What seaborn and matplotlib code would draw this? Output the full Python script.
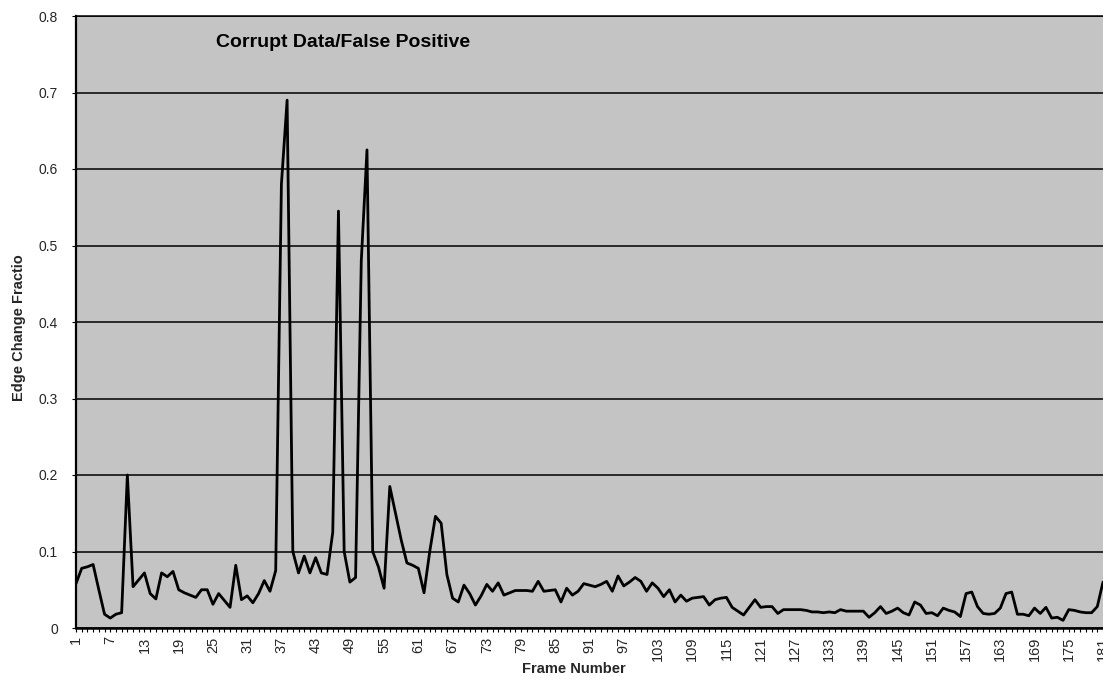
import numpy as np
import pandas as pd
import matplotlib
matplotlib.use("Agg")
import matplotlib.pyplot as plt
from matplotlib.ticker import MultipleLocator, FixedLocator
import seaborn as sns

# Edge change fraction per frame (frames 1..181)
edge_change = [
    0.058, 0.078, 0.080, 0.083, 0.050, 0.018, 0.013, 0.018, 0.020, 0.200,   # 1-10
    0.054, 0.063, 0.072, 0.045, 0.038, 0.072, 0.067, 0.074, 0.050, 0.046,   # 11-20
    0.043, 0.040, 0.050, 0.050, 0.031, 0.045, 0.036, 0.027, 0.082, 0.037,   # 21-30
    0.042, 0.033, 0.045, 0.062, 0.048, 0.075, 0.580, 0.690, 0.100, 0.072,   # 31-40
    0.094, 0.072, 0.092, 0.072, 0.070, 0.125, 0.545, 0.100, 0.060, 0.066,   # 41-50
    0.480, 0.625, 0.100, 0.080, 0.052, 0.185, 0.150, 0.115, 0.085, 0.082,   # 51-60
    0.078, 0.046, 0.100, 0.146, 0.137, 0.070, 0.039, 0.034, 0.056, 0.045,   # 61-70
    0.030, 0.042, 0.057, 0.048, 0.059, 0.043, 0.046, 0.049, 0.049, 0.049,   # 71-80
    0.048, 0.061, 0.048, 0.049, 0.050, 0.034, 0.052, 0.043, 0.048, 0.058,   # 81-90
    0.056, 0.054, 0.057, 0.061, 0.048, 0.068, 0.055, 0.060, 0.066, 0.061,   # 91-100
    0.048, 0.059, 0.052, 0.041, 0.050, 0.034, 0.043, 0.035, 0.039, 0.040,   # 101-110
    0.041, 0.030, 0.037, 0.039, 0.040, 0.027, 0.022, 0.017, 0.027, 0.037,   # 111-120
    0.027, 0.028, 0.028, 0.019, 0.024, 0.024, 0.024, 0.024, 0.023, 0.021,   # 121-130
    0.021, 0.020, 0.021, 0.020, 0.024, 0.022, 0.022, 0.022, 0.022, 0.014,   # 131-140
    0.020, 0.028, 0.019, 0.022, 0.026, 0.020, 0.017, 0.034, 0.030, 0.019,   # 141-150
    0.020, 0.016, 0.026, 0.023, 0.021, 0.015, 0.045, 0.047, 0.028, 0.019,   # 151-160
    0.018, 0.019, 0.026, 0.045, 0.047, 0.018, 0.018, 0.016, 0.026, 0.019,   # 161-170
    0.027, 0.013, 0.014, 0.010, 0.024, 0.023, 0.021, 0.020, 0.020, 0.028,   # 171-180
    0.060,                                                                  # 181
]
frames = list(range(1, len(edge_change) + 1))
frame_labels = list(range(1, 182, 6))
y_ticks = [0, 0.1, 0.2, 0.3, 0.4, 0.5, 0.6, 0.7, 0.8]
y_tick_labels = ["0", "0.1", "0.2", "0.3", "0.4", "0.5", "0.6", "0.7", "0.8"]

df = pd.DataFrame({"Frame Number": frames, "Edge Change Fractio": edge_change})

sns.set_theme(style="white")
plt.rcParams["font.family"] = ["Liberation Sans", "DejaVu Sans"]

fig = plt.figure(figsize=(11.03, 6.87), dpi=100)
ax = fig.add_axes([76 / 1103, 59 / 687, 1 - 76 / 1103, 612 / 687])
ax.set_facecolor("#c4c4c4")

sns.lineplot(data=df, x="Frame Number", y="Edge Change Fractio",
             color="black", linewidth=2.0, ax=ax, zorder=3)

ax.set_xlim(1, 181)
ax.set_ylim(0, 0.8)

# horizontal gridlines
ax.set_yticks(y_ticks)
ax.set_yticklabels(y_tick_labels, fontsize=10)
ax.yaxis.grid(True, color="black", linewidth=1.1)
ax.xaxis.grid(False)
ax.set_axisbelow(True)

ax.xaxis.set_major_locator(FixedLocator(frame_labels))
ax.set_xticklabels([str(v) for v in frame_labels], rotation=90, fontsize=10.5)
ax.xaxis.set_minor_locator(MultipleLocator(1))
ax.tick_params(axis="x", which="both", direction="out", length=3,
               width=0.8, color="black", bottom=True, pad=3)
ax.tick_params(axis="y", which="major", direction="out", length=3,
               width=0.8, color="black", left=True, pad=10)

for side in ("left", "bottom", "top"):
    ax.spines[side].set_visible(True)
    ax.spines[side].set_color("black")
ax.spines["left"].set_linewidth(1.6)
ax.spines["bottom"].set_linewidth(1.8)
ax.spines["top"].set_linewidth(1.1)
ax.spines["right"].set_visible(False)

ax.set_xlabel("Frame Number", fontsize=10.5, fontweight="bold")
ax.set_ylabel("Edge Change Fractio", fontsize=10.5, fontweight="bold")
ax.xaxis.set_label_coords(0.485, -0.056)
ax.yaxis.set_label_coords(-0.049, 0.49)

ax.text(25.6, 0.766, "Corrupt Data/False Positive", fontsize=14,
        fontweight="bold", color="black", va="center", ha="left", zorder=4)

fig.savefig("out.png", dpi=100)
